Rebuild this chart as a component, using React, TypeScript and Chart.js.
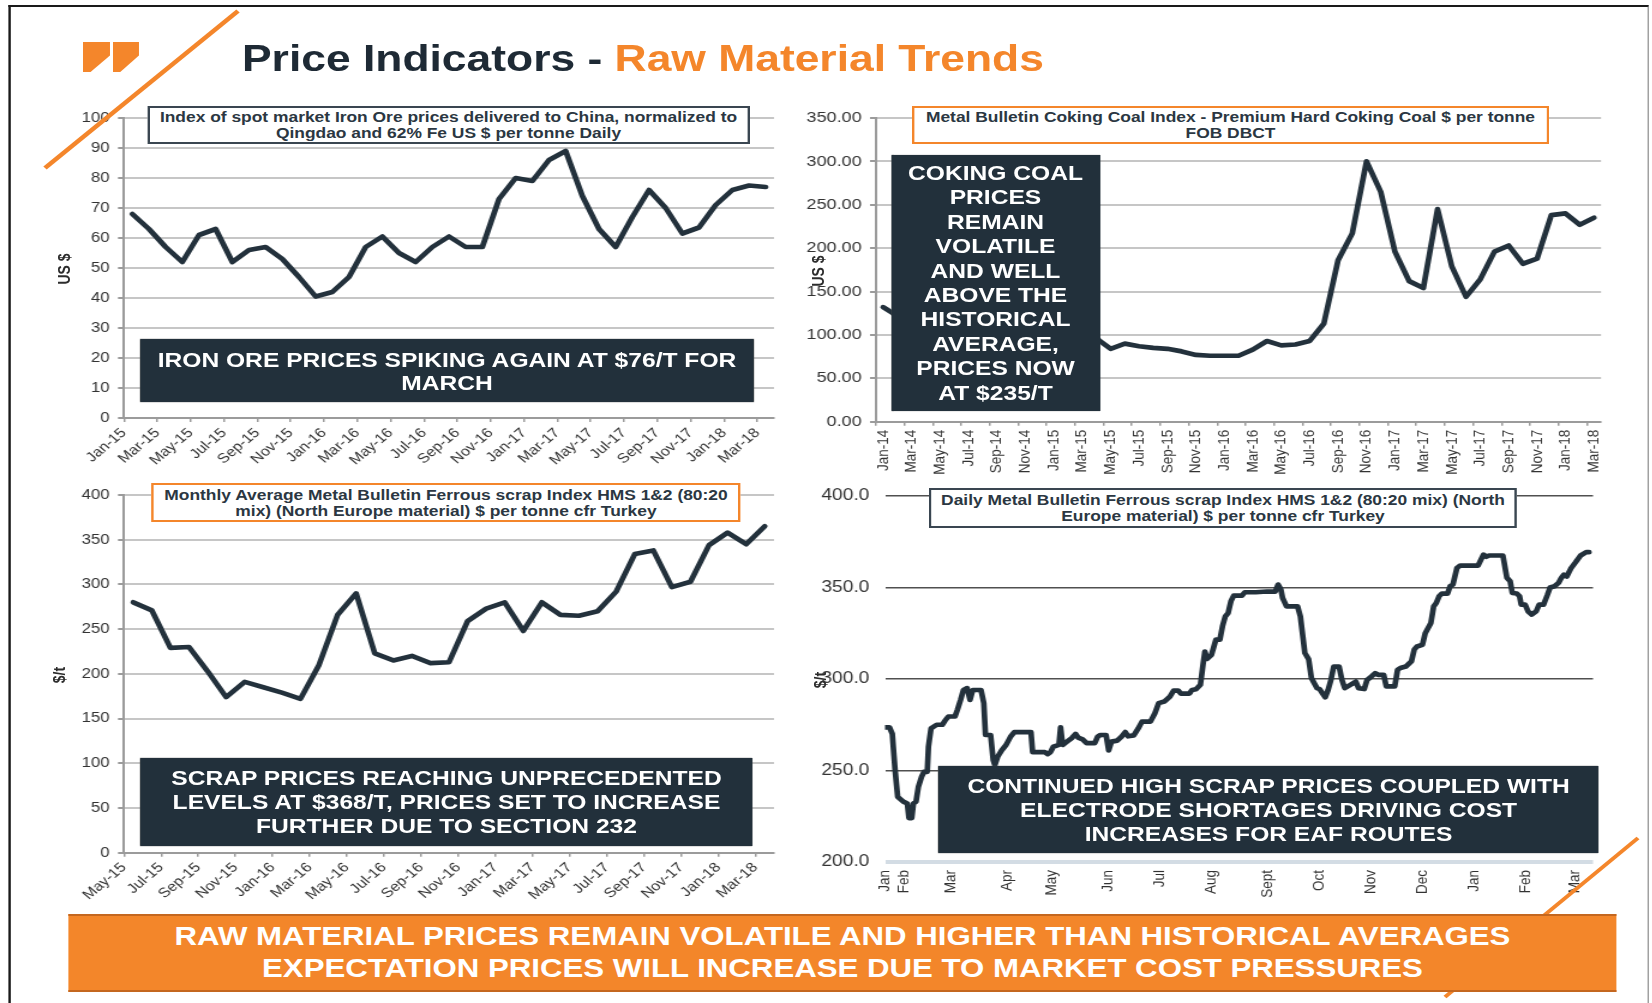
import React, { useEffect, useRef } from 'react';
import { Chart, registerables } from 'chart.js';

Chart.register(...registerables);

const FONT = "'Liberation Sans', Arial, Helvetica, sans-serif";
const S = 1.2; // the slide is stretched horizontally
const u = (v: number) => v / S;

const NAVY_BOX = '#22303b';
const ORANGE = '#f4862b';
const LINE = '#23313c';
const TXT = '#2b3742';
const LW = 4.7;

// ---------- Iron ore (monthly, Jan-15 .. Mar-18) ----------
const ironLabels = ['Jan-15', 'Mar-15', 'May-15', 'Jul-15', 'Sep-15', 'Nov-15', 'Jan-16', 'Mar-16', 'May-16', 'Jul-16', 'Sep-16', 'Nov-16', 'Jan-17', 'Mar-17', 'May-17', 'Jul-17', 'Sep-17', 'Nov-17', 'Jan-18', 'Mar-18'];
const ironValues = [68, 63, 57, 52, 61, 63, 52, 56, 57, 53, 47, 40.5, 42, 47, 57, 60.5, 55, 52, 57, 60.5, 57, 57, 73, 80, 79, 86, 89, 74, 63, 57, 67, 76, 70, 61.5, 63.5, 71, 76, 77.5, 77];

// ---------- Coking coal (monthly, Jan-14 .. Mar-18) ----------
const coalLabels = ['Jan-14', 'Mar-14', 'May-14', 'Jul-14', 'Sep-14', 'Nov-14', 'Jan-15', 'Mar-15', 'May-15', 'Jul-15', 'Sep-15', 'Nov-15', 'Jan-16', 'Mar-16', 'May-16', 'Jul-16', 'Sep-16', 'Nov-16', 'Jan-17', 'Mar-17', 'May-17', 'Jul-17', 'Sep-17', 'Nov-17', 'Jan-18', 'Mar-18'];
const coalValues = [132, 122, 115, 112, 110, 112, 113, 112, 112, 113, 111, 108, 105, 102, 100, 96, 84, 90, 87, 85, 84, 81, 77, 76, 76, 76, 83, 93, 88, 89, 93, 113, 186, 217, 300, 265, 196, 162, 154, 245, 179, 144, 164, 196, 203, 182, 188, 238, 240, 227, 235];

// ---------- Scrap monthly (May-15 .. Mar-18) ----------
const scrapLabels = ['May-15', 'Jul-15', 'Sep-15', 'Nov-15', 'Jan-16', 'Mar-16', 'May-16', 'Jul-16', 'Sep-16', 'Nov-16', 'Jan-17', 'Mar-17', 'May-17', 'Jul-17', 'Sep-17', 'Nov-17', 'Jan-18', 'Mar-18'];
const scrapValues = [280, 271, 229, 230, 203, 174, 191, 185, 179, 172, 210, 266, 290, 223, 215, 220, 212, 213, 259, 273, 280, 248, 280, 266, 265, 270, 292, 334, 338, 297, 303, 344, 358, 345, 365];

// ---------- Scrap daily (trading-day index, late Jan-17 .. Mar-18) ----------
const dailyMonthLabels = ['Jan', 'Feb', 'Mar', 'Apr', 'May', 'Jun', 'Jul', 'Aug', 'Sept', 'Oct', 'Nov', 'Dec', 'Jan', 'Feb', 'Mar'];
const dailyMonthDays = [0, 8, 28, 52, 71, 95, 117, 139, 163, 185, 207, 229, 251, 273, 294];
const dailyDays = [0, 1.9, 3.1, 4.3, 5.4, 7.8, 9.5, 10.2, 11.4, 12.1, 13.2, 14.2, 15.6, 16.6, 18.0, 18.5, 19.6, 22.0, 24.4, 25.6, 27.0, 29.8, 30.8, 32.2, 33.4, 35.0, 36.2, 37.4, 40.9, 42.1, 42.8, 45.0, 46.1, 46.8, 48.0, 49.7, 51.6, 53.5, 55.1, 62.2, 62.9, 68.1, 69.3, 70.5, 71.7, 74.1, 74.8, 75.7, 77.6, 79.5, 81.2, 82.3, 84.2, 85.9, 89.4, 90.6, 91.8, 94.2, 95.3, 96.5, 98.9, 100.8, 102.4, 103.6, 106.0, 107.9, 109.5, 113.1, 115.0, 116.6, 119.0, 121.4, 123.0, 124.9, 126.1, 129.7, 130.8, 132.5, 134.4, 135.6, 136.3, 137.2, 139.1, 141.0, 142.7, 143.8, 145.0, 146.2, 147.4, 148.6, 152.1, 153.3, 158.0, 162.8, 166.3, 167.5, 168.7, 169.4, 171.1, 175.8, 177.0, 178.9, 180.5, 181.7, 182.9, 184.1, 185.2, 186.4, 187.6, 188.8, 190.0, 191.2, 193.5, 194.7, 195.9, 198.3, 200.6, 201.8, 204.2, 205.4, 207.3, 208.9, 210.1, 212.5, 213.6, 217.2, 218.4, 219.6, 221.9, 224.3, 225.5, 226.7, 229.0, 230.2, 232.6, 233.8, 234.9, 236.1, 237.3, 239.7, 240.8, 242.0, 243.7, 245.1, 252.7, 255.0, 256.2, 257.4, 263.3, 265.0, 266.4, 267.3, 269.2, 270.4, 271.1, 272.8, 274.0, 275.6, 277.5, 278.7, 280.6, 282.3, 283.4, 285.3, 287.0, 288.2, 289.3, 290.5, 292.4, 294.1, 296.4, 298.8, 300];
const dailyValues = [273.6, 273.6, 270, 250, 235.6, 233, 232, 224, 224, 232, 233, 241, 246.6, 249.3, 249.3, 263, 273, 275, 275, 277.3, 279.5, 279.5, 283, 288.6, 294, 295, 288.6, 294, 294, 286.8, 269.4, 269.4, 255.7, 253, 257.5, 261, 264, 268.5, 271, 271, 260, 260, 259, 260, 263, 264, 273.6, 264, 265.8, 267.6, 270, 268, 267, 265, 265, 268.5, 269.4, 269.4, 261, 265.8, 266.3, 268.5, 271, 268.7, 269.2, 273, 276.7, 276.7, 281.3, 286.8, 287.7, 290.4, 293.7, 293.7, 292, 292, 294, 294.4, 296.8, 308.7, 315, 311, 313.2, 321.5, 321.5, 328.8, 334.2, 336, 342.5, 345.6, 345.6, 347.4, 347.4, 347.8, 347.8, 351.6, 348.9, 344.3, 339.7, 339.7, 334.2, 314.2, 310.9, 300.5, 297.7, 295, 294.5, 292.2, 290, 294, 299.5, 306.8, 306.8, 299.5, 295, 296.8, 298.6, 295, 294.5, 299.5, 301.4, 303.2, 302.3, 302.3, 296, 296, 305, 306, 306.8, 309.6, 316, 317.8, 318.7, 325, 330.6, 339.7, 341.5, 345.2, 346.7, 346.7, 350.7, 351.6, 360.7, 362, 362, 368, 366.8, 367.5, 367.5, 355.3, 353.4, 347, 346.7, 345.2, 340.6, 340.6, 337, 335.2, 337, 340.6, 340.6, 346.1, 350, 350.7, 352.5, 355.3, 357, 356, 360.7, 363.5, 367.5, 369.3, 369.3];

type Geo = { yAxisW: number; xAxisH: number; padTop: number; padRight: number };

function monthlyConfig(
  values: number[], tickLabels: string[], yMax: number, yStep: number, decimals: number,
  rotation: number, labelOffset: number, geo: Geo, yFont: number, xFont: number, xTickLen: number, xPad: number,
): any {
  const data = values.map((v, i) => ({ x: i + 0.5, y: v }));
  return {
    type: 'line',
    data: {
      datasets: [{
        data, borderColor: LINE, borderWidth: LW, pointRadius: 0, tension: 0,
        borderJoinStyle: 'round', borderCapStyle: 'round', fill: false,
      }],
    },
    options: {
      responsive: false, animation: false, maintainAspectRatio: false,
      plugins: { legend: { display: false }, tooltip: { enabled: false } },
      layout: { padding: { top: geo.padTop, right: geo.padRight, left: 0, bottom: 0 } },
      scales: {
        x: {
          type: 'linear', min: 0, max: values.length,
          afterBuildTicks: (s: any) => { s.ticks = tickLabels.map((_, k) => ({ value: k * 2 })); },
          afterFit: (s: any) => { s.height = geo.xAxisH; },
          ticks: {
            callback: (v: number) => tickLabels[Math.round(v / 2)] ?? '',
            minRotation: rotation, maxRotation: rotation, autoSkip: false,
            font: { family: FONT, size: xFont }, color: '#333', padding: xPad, labelOffset,
          },
          grid: { drawOnChartArea: false, drawTicks: true, tickLength: xTickLen, color: '#9b9b9b', lineWidth: 1.5 },
          border: { display: true, color: '#9b9b9b', width: 2 },
        },
        y: {
          min: 0, max: yMax,
          afterFit: (s: any) => { s.width = geo.yAxisW; },
          ticks: {
            stepSize: yStep, callback: (v: number) => Number(v).toFixed(decimals),
            font: { family: FONT, size: yFont }, color: '#333', padding: 7,
          },
          grid: { color: '#c6c6c6', lineWidth: 2, drawTicks: true, tickLength: 5, tickColor: '#9b9b9b' },
          border: { display: true, color: '#9b9b9b', width: 2 },
        },
      },
    },
  };
}

function dailyConfig(geo: Geo): any {
  const data = dailyDays.map((d, i) => ({ x: d, y: dailyValues[i] }));
  return {
    type: 'line',
    data: {
      datasets: [{
        data, borderColor: LINE, borderWidth: LW, pointRadius: 0, tension: 0,
        borderJoinStyle: 'round', borderCapStyle: 'round', fill: false,
      }],
    },
    options: {
      responsive: false, animation: false, maintainAspectRatio: false,
      plugins: { legend: { display: false }, tooltip: { enabled: false } },
      layout: { padding: { top: geo.padTop, right: geo.padRight, left: 0, bottom: 0 } },
      scales: {
        x: {
          type: 'linear', min: 0, max: 301.7,
          afterBuildTicks: (s: any) => { s.ticks = dailyMonthDays.map((d) => ({ value: d })); },
          afterFit: (s: any) => { s.height = geo.xAxisH; },
          ticks: {
            callback: (_v: number, i: number) => dailyMonthLabels[i] ?? '',
            minRotation: 90, maxRotation: 90, autoSkip: false,
            font: { family: FONT, size: 13.5 }, color: '#333', padding: 8,
          },
          grid: { display: false, drawTicks: false },
          border: { display: false },
        },
        y: {
          min: 200, max: 400,
          afterFit: (s: any) => { s.width = geo.yAxisW; },
          ticks: {
            stepSize: 50, callback: (v: number) => Number(v).toFixed(1),
            font: { family: FONT, size: 16 }, color: '#333', padding: 13,
          },
          grid: {
            drawTicks: false,
            color: (c: any) => (c.tick && c.tick.value === 200 ? '#d3dce4' : '#505050'),
            lineWidth: (c: any) => (c.tick && c.tick.value === 200 ? 4 : 1.5),
          },
          border: { display: false },
        },
      },
    },
  };
}

function ChartCanvas({ left, top, width, height, make }: { left: number; top: number; width: number; height: number; make: () => any }) {
  const ref = useRef<HTMLCanvasElement | null>(null);
  useEffect(() => {
    if (!ref.current) return;
    const chart = new Chart(ref.current, make());
    return () => chart.destroy();
  }, []);
  return (
    <canvas
      ref={ref}
      width={Math.round(width)}
      height={Math.round(height)}
      style={{ position: 'absolute', left, top, width: Math.round(width), height: Math.round(height), display: 'block' }}
    />
  );
}

function TitleBox({ left, top, width, height, border, lines }: { left: number; top: number; width: number; height: number; border: string; lines: string[] }) {
  return (
    <div style={{
      position: 'absolute', left, top, width, height, boxSizing: 'border-box', background: '#fff',
      border: `2px solid ${border}`, display: 'flex', flexDirection: 'column', justifyContent: 'center',
      alignItems: 'center', fontFamily: FONT, fontWeight: 700, fontSize: 14.5, lineHeight: '16px', color: TXT,
      whiteSpace: 'nowrap', textAlign: 'center',
    }}>
      {lines.map((l, i) => <div key={i}>{l}</div>)}
    </div>
  );
}

function DarkBox({ left, top, width, height, lines, lh }: { left: number; top: number; width: number; height: number; lines: string[]; lh: number }) {
  return (
    <div style={{
      position: 'absolute', left, top, width, height, boxSizing: 'border-box', background: NAVY_BOX,
      display: 'flex', flexDirection: 'column', justifyContent: 'center', alignItems: 'center',
      fontFamily: FONT, fontWeight: 700, fontSize: 20.5, lineHeight: `${lh}px`, color: '#fff',
      whiteSpace: 'nowrap', textAlign: 'center', boxShadow: '0 0 1px #555',
    }}>
      {lines.map((l, i) => <div key={i}>{l}</div>)}
    </div>
  );
}

function YTitle({ cx, cy, text }: { cx: number; cy: number; text: string }) {
  return (
    <div style={{
      position: 'absolute', left: cx, top: cy, transform: 'translate(-50%, -50%) rotate(-90deg)',
      fontFamily: FONT, fontWeight: 700, fontSize: 14, color: '#2c2c2c', whiteSpace: 'nowrap', lineHeight: '16px',
    }}>{text}</div>
  );
}

export default function App() {
  const W = u(1652);
  return (
    <div style={{ position: 'fixed', left: 0, top: 0, width: 1652, height: 1003, overflow: 'hidden', background: '#fff' }}>
      <div style={{ position: 'absolute', left: 0, top: 0, width: W, height: 1003, transform: `scaleX(${S})`, transformOrigin: '0 0' }}>
        {/* frame */}
        <div style={{
          position: 'absolute', left: u(8), top: 5, width: u(1649 - 8), height: 1100, boxSizing: 'border-box',
          borderTop: '2px solid #1a1a1a', borderLeft: '2px solid #1a1a1a', borderRight: '1.5px solid #8a8a8a',
        }} />

        {/* charts */}
        <ChartCanvas left={20} top={95} width={640} height={375}
          make={() => monthlyConfig(ironValues, ironLabels, 100, 10, 0, 45, 0, { yAxisW: 83.3, xAxisH: 52, padTop: 23, padRight: 15 }, 14, 13.5, 4, 3)} />
        <ChartCanvas left={650} top={95} width={700} height={385}
          make={() => monthlyConfig(coalValues, coalLabels, 350, 50, 2, 90, 5.9, { yAxisW: 80, xAxisH: 58.3, padTop: 23, padRight: 15.8 }, 15, 13.5, 4, 4)} />
        <ChartCanvas left={20} top={472} width={640} height={438}
          make={() => monthlyConfig(scrapValues, scrapLabels, 400, 50, 0, 45, 0, { yAxisW: 83.3, xAxisH: 57.3, padTop: 23, padRight: 15 }, 14, 13.5, 4, 3)} />
        <ChartCanvas left={680} top={470} width={670} height={445}
          make={() => dailyConfig({ yAxisW: 57.5, xAxisH: 53, padTop: 26, padRight: 22.5 })} />

        {/* chart 1 overlays */}
        <TitleBox left={u(147)} top={106} width={u(750 - 147)} height={38} border="#3a4651"
          lines={['Index of spot market Iron Ore prices delivered to China, normalized to', 'Qingdao and 62% Fe US $ per tonne Daily']} />
        <DarkBox left={u(140)} top={339} width={u(754 - 140)} height={63} lh={23}
          lines={['IRON ORE PRICES SPIKING AGAIN AT $76/T FOR', 'MARCH']} />
        <YTitle cx={u(63)} cy={269} text="US $" />

        {/* chart 2 overlays */}
        <TitleBox left={u(912)} top={106} width={u(1549 - 912)} height={38} border={ORANGE}
          lines={['Metal Bulletin Coking Coal Index - Premium Hard Coking Coal $ per tonne', 'FOB DBCT']} />
        <YTitle cx={u(818)} cy={271} text="US $" />
        <DarkBox left={u(891)} top={155} width={u(1100 - 891)} height={256} lh={24.4}
          lines={['COKING COAL', 'PRICES', 'REMAIN', 'VOLATILE', 'AND WELL', 'ABOVE THE', 'HISTORICAL', 'AVERAGE,', 'PRICES NOW', 'AT $235/T']} />

        {/* chart 3 overlays */}
        <TitleBox left={u(151)} top={483} width={u(741 - 151)} height={39} border={ORANGE}
          lines={['Monthly Average Metal Bulletin Ferrous scrap Index HMS 1&2 (80:20', 'mix) (North Europe material) $ per tonne cfr Turkey']} />
        <DarkBox left={u(140)} top={758} width={u(753 - 140)} height={88} lh={24.2}
          lines={['SCRAP PRICES REACHING UNPRECEDENTED', 'LEVELS AT $368/T, PRICES SET TO INCREASE', 'FURTHER DUE TO SECTION 232']} />
        <YTitle cx={u(59)} cy={675} text="$/t" />

        {/* chart 4 overlays */}
        <TitleBox left={u(929)} top={488} width={u(1517 - 929)} height={40} border="#3a4651"
          lines={['Daily Metal Bulletin Ferrous scrap Index HMS 1&2 (80:20 mix) (North', 'Europe material) $ per tonne cfr Turkey']} />
        <DarkBox left={u(938.5)} top={766} width={u(1598.7 - 938.5)} height={87} lh={24}
          lines={['CONTINUED HIGH SCRAP PRICES COUPLED WITH', 'ELECTRODE SHORTAGES DRIVING COST', 'INCREASES FOR EAF ROUTES']} />
        <YTitle cx={u(819)} cy={680} text="$/t" />

        {/* decorative orange lines */}
        <svg width={W} height={1003} style={{ position: 'absolute', left: 0, top: 0, pointerEvents: 'none' }}>
          <line x1={u(45)} y1={168} x2={u(238)} y2={11} stroke={ORANGE} strokeWidth={4} />
          <line x1={u(1638)} y1={838} x2={u(1445)} y2={997} stroke={ORANGE} strokeWidth={3.5} />
        </svg>

        {/* logo */}
        <div style={{ position: 'absolute', left: u(83), top: 42, width: u(27), height: 30, background: ORANGE, clipPath: 'polygon(0 0, 100% 0, 100% 45%, 28% 100%, 0 100%)' }} />
        <div style={{ position: 'absolute', left: u(113), top: 42, width: u(26), height: 30, background: ORANGE, clipPath: 'polygon(0 0, 100% 0, 100% 45%, 28% 100%, 0 100%)' }} />

        {/* title */}
        <div style={{ position: 'absolute', left: u(242), top: 40, fontFamily: FONT, fontWeight: 700, fontSize: 37, lineHeight: '37px', whiteSpace: 'nowrap' }}>
          <span style={{ color: '#1e2a35' }}>Price Indicators - </span>
          <span style={{ color: ORANGE }}>Raw Material Trends</span>
        </div>

        {/* bottom banner */}
        <div style={{
          position: 'absolute', left: u(68), top: 914, width: u(1617 - 68), height: 78, boxSizing: 'border-box',
          background: '#f3862a', borderTop: '2px solid #c4671f', borderBottom: '2px solid #c4671f',
          display: 'flex', flexDirection: 'column', justifyContent: 'center', alignItems: 'center',
          fontFamily: FONT, fontWeight: 700, fontSize: 26, lineHeight: '31.7px', color: '#fff', whiteSpace: 'nowrap',
        }}>
          <div>RAW MATERIAL PRICES REMAIN VOLATILE AND HIGHER THAN HISTORICAL AVERAGES</div>
          <div>EXPECTATION PRICES WILL INCREASE DUE TO MARKET COST PRESSURES</div>
        </div>
      </div>
    </div>
  );
}
